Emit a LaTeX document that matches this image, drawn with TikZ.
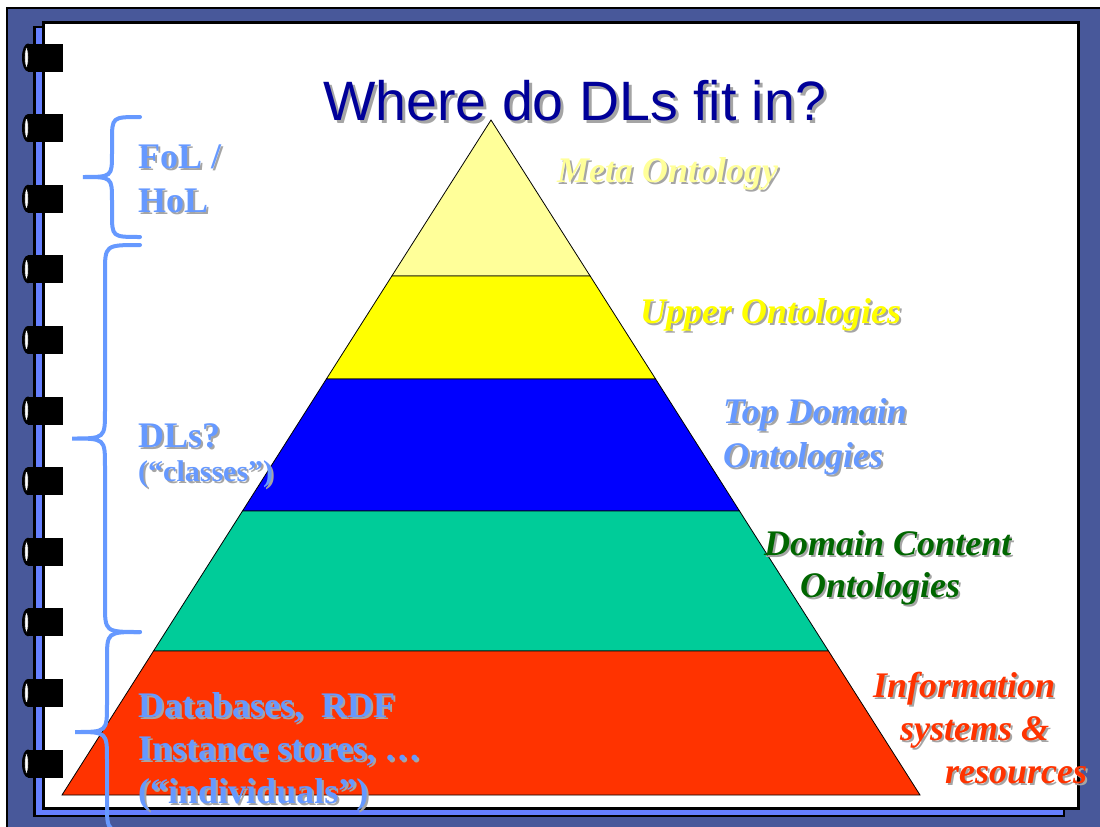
\documentclass[tikz,border=0pt]{standalone}
\usepackage{fontspec}
\setmainfont{Liberation Serif}
\newfontfamily\titlefont{Liberation Sans}
\usetikzlibrary{calc}
\definecolor{framebg}{RGB}{72,88,154}
\definecolor{pagestrip}{RGB}{102,128,255}
\definecolor{titleblue}{RGB}{0,0,153}
\definecolor{labelblue}{RGB}{102,153,255}
\definecolor{metayellow}{RGB}{255,255,153}
\definecolor{upperyellow}{RGB}{255,255,0}
\definecolor{topblue}{RGB}{0,0,255}
\definecolor{contentgreen}{RGB}{0,204,153}
\definecolor{infored}{RGB}{255,51,0}
\definecolor{darkgreen}{RGB}{0,102,0}
\definecolor{shade}{RGB}{165,165,165}

% text with a soft drop shadow: name, position, style, text
\newcommand\shadowed[4]{%
  \node[#3, text=shade, xshift=2pt, yshift=-2pt] at (#2) {#4};
  \node[#3] (#1) at (#2) {#4};}

% left curly brace: end x, spine x, tip x, top y, middle y, bottom y, arm length
\newcommand\curlybrace[7]{%
  \draw[brace] (#1,#4) .. controls (#2,#4) .. (#2,#4+#7) -- (#2,#5-#7)
    .. controls (#2,#5) .. (#3,#5) .. controls (#2,#5) .. (#2,#5+#7)
    -- (#2,#6-#7) .. controls (#2,#6) .. (#1,#6);}

\begin{document}
\begin{tikzpicture}[x=1pt,y=-1pt,
  lbl/.style={inner sep=0pt, anchor=base west,
    font=\fontsize{36}{43}\selectfont\bfseries\itshape},
  side/.style={inner sep=0pt, anchor=base west, text=labelblue,
    font=\fontsize{36}{43}\selectfont\bfseries},
  sidesmall/.style={side, font=\fontsize{30}{36}\selectfont\bfseries},
  layer/.style={draw=black, line width=0.8pt},
  brace/.style={draw=labelblue, line width=4pt, line cap=round},
  titletext/.style={inner sep=0pt, anchor=base west,
    font=\titlefont\fontsize{55.5}{60}\selectfont}]

\useasboundingbox (0,0) rectangle (1100,827);

% binder frame
\fill[framebg] (7,8) rectangle (1100,827);
\draw[line width=2.5pt] (7,827) -- (7,8) -- (1100,8);
\filldraw[fill=pagestrip, line width=2.5pt] (34.5,27) rectangle (1064,816);
\filldraw[fill=white, line width=3pt] (43.3,22.2) rectangle (1078.3,808.7);

% binder rings
\foreach \i in {0,...,10} {
  \pgfmathsetmacro\c{57.5+70.6*\i}
  \fill (28,\c-14) rectangle (63,\c+14);
  \fill (28,\c) ellipse [x radius=6pt, y radius=14pt];
  \filldraw[fill=white, line width=0.6pt] (26.5,\c) ellipse [x radius=1.8pt, y radius=10pt];
}

% pyramid
\coordinate (A) at (491,120);
\coordinate (L) at (62,795);
\coordinate (R) at (920,795);
\foreach \t [count=\k] in {0.2311,0.3837,0.5793,0.7867} {
  \coordinate (l\k) at ($(A)!\t!(L)$);
  \coordinate (r\k) at ($(A)!\t!(R)$);
}
\filldraw[layer, fill=metayellow] (A) -- (l1) -- (r1) -- cycle;
\filldraw[layer, fill=upperyellow] (l1) -- (l2) -- (r2) -- (r1) -- cycle;
\filldraw[layer, fill=topblue] (l2) -- (l3) -- (r3) -- (r2) -- cycle;
\filldraw[layer, fill=contentgreen] (l3) -- (l4) -- (r4) -- (r3) -- cycle;
\filldraw[layer, fill=infored] (l4) -- (L) -- (R) -- (r4) -- cycle;

% braces
\curlybrace{140}{112}{83}{117}{177}{237}{24}
\curlybrace{140}{105}{72}{245}{438.5}{632}{28}
\curlybrace{140}{107}{75}{632}{732}{832}{28}

% left-hand labels
\shadowed{fol}{138,168}{side}{FoL /}
\shadowed{hol}{138,212}{side}{HoL}
\shadowed{dls}{138,447}{side}{DLs?}
\shadowed{classes}{138,481}{sidesmall}{(“classes”)}
\shadowed{db}{138,717}{side}{Databases,~ RDF}
\shadowed{inst}{138,760}{side}{Instance stores, …}
\shadowed{indiv}{138,803}{side}{(“individuals”)}

% right-hand labels
\shadowed{meta}{557,182}{lbl, text=metayellow}{Meta Ontology}
\shadowed{upper}{640,323}{lbl, text=upperyellow}{Upper Ontologies}
\shadowed{topdom}{723,423}{lbl, text=labelblue}{Top Domain}
\shadowed{topont}{723,467}{lbl, text=labelblue}{Ontologies}
\shadowed{dcont}{764,555}{lbl, text=darkgreen}{Domain Content}
\shadowed{dcontont}{800,597}{lbl, text=darkgreen}{Ontologies}
\shadowed{info}{873,697}{lbl, text=infored}{Information}
\shadowed{sys}{900,740}{lbl, text=infored}{systems \&}
\shadowed{res}{945,783}{lbl, text=infored}{resources}

% title
\node[titletext, text=shade, xshift=3pt, yshift=-3pt] at (323,120) {Where do DLs fit in?};
\node[titletext, text=titleblue] (title) at (323,120) {Where do DLs fit in?};

\end{tikzpicture}
\end{document}
